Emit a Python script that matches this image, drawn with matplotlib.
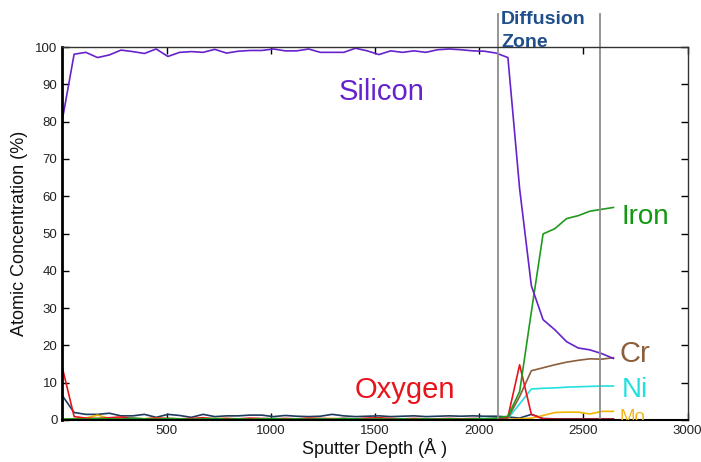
import numpy as np
import matplotlib
matplotlib.use("Agg")
import matplotlib.pyplot as plt

plt.rcParams['font.family'] = ['Liberation Sans', 'DejaVu Sans']

# depth step between AES points (Angstrom)
step = 56.25
depth = np.arange(48) * step

silicon = [80.6, 98.1, 98.6, 97.2, 97.9, 99.2, 98.8, 98.3, 99.5, 97.5,
           98.6, 98.8, 98.6, 99.4, 98.4, 98.9, 99.1, 99.1, 99.5, 99.0,
           99.0, 99.5, 98.6, 98.6, 98.6, 99.7, 99.0, 98.0, 99.0, 98.6,
           99.0, 98.6, 99.3, 99.5, 99.3, 99.0, 98.9, 98.4, 97.2, 62.0,
           36.0, 26.9, 24.2, 21.0, 19.3, 18.8, 17.8, 16.5]
iron = [0.2, 0.3, 0.2, 0.4, 0.3, 0.2, 0.5, 0.3, 0.2, 0.4,
        0.3, 0.2, 0.3, 0.4, 0.2, 0.3, 0.2, 0.3, 0.4, 0.2,
        0.3, 0.2, 0.3, 0.2, 0.4, 0.3, 0.2, 0.3, 0.2, 0.3,
        0.2, 0.3, 0.2, 0.3, 0.2, 0.3, 0.3, 0.5, 1.0, 7.6,
        29.0, 49.9, 51.3, 54.0, 54.8, 56.0, 56.5, 57.0]
chromium = [0.1, 0.2, 0.2, 0.3, 0.2, 0.2, 0.3, 0.2, 0.2, 0.3,
            0.2, 0.2, 0.2, 0.3, 0.2, 0.2, 0.2, 0.2, 0.3, 0.2,
            0.2, 0.2, 0.2, 0.2, 0.3, 0.2, 0.2, 0.2, 0.2, 0.2,
            0.2, 0.2, 0.2, 0.2, 0.2, 0.2, 0.2, 0.3, 0.5, 6.3,
            13.2, 14.0, 14.8, 15.5, 16.0, 16.4, 16.3, 16.7]
nickel = [0.1, 0.1, 0.1, 0.1, 0.1, 0.1, 0.1, 0.1, 0.1, 0.1,
          0.1, 0.1, 0.1, 0.1, 0.1, 0.1, 0.1, 0.1, 0.1, 0.1,
          0.1, 0.1, 0.1, 0.1, 0.1, 0.1, 0.1, 0.1, 0.1, 0.1,
          0.2, 0.2, 0.2, 0.2, 0.3, 0.3, 0.4, 0.4, 0.4, 4.3,
          8.3, 8.5, 8.6, 8.8, 8.9, 9.0, 9.1, 9.1]
molybdenum = [0.2, 0.3, 0.5, 1.3, 0.4, 0.3, 0.2, 0.3, 0.5, 0.3,
              0.2, 0.3, 0.2, 0.3, 0.4, 0.2, 0.3, 0.2, 0.3, 0.2,
              0.3, 0.2, 0.3, 0.4, 0.2, 0.3, 0.2, 0.3, 0.2, 0.3,
              0.2, 0.3, 0.2, 0.3, 0.2, 0.3, 0.2, 0.2, 0.2, 0.3,
              0.5, 1.2, 2.0, 2.1, 2.1, 1.6, 2.3, 2.3]
oxygen = [14.0, 0.9, 0.5, 0.4, 0.6, 0.8, 0.4, 0.3, 0.5, 0.4,
          0.3, 0.4, 0.6, 0.3, 0.4, 0.3, 0.5, 0.4, 0.3, 0.4,
          0.3, 0.5, 0.4, 0.3, 0.4, 0.3, 0.5, 0.6, 0.4, 0.3,
          0.4, 0.3, 0.3, 0.4, 0.3, 0.4, 0.3, 0.4, 0.8, 14.8,
          1.5, 0.3, 0.2, 0.2, 0.2, 0.2, 0.2, 0.2]
carbon = [6.5, 2.0, 1.5, 1.5, 1.8, 1.1, 1.1, 1.5, 0.7, 1.5,
          1.2, 0.7, 1.5, 0.9, 1.1, 1.1, 1.3, 1.3, 0.9, 1.2,
          1.0, 0.9, 1.0, 1.5, 1.1, 0.9, 1.0, 1.1, 0.9, 1.0,
          1.1, 0.9, 1.0, 1.1, 1.0, 1.1, 1.0, 1.0, 0.8, 0.5,
          1.5, 0.4, 0.3, 0.3, 0.3, 0.3, 0.3, 0.3]

zone = [2090, 2580]

fig = plt.figure(figsize=(7.01, 4.62), dpi=100)
ax = fig.add_axes([0.089, 0.091, 0.892, 0.807])

ax.plot(depth, carbon, color='#1f3a5f', lw=1.2)
ax.plot(depth, nickel, color='#22e0e0', lw=1.2)
ax.plot(depth, molybdenum, color='#f0b400', lw=1.2)
ax.plot(depth, chromium, color='#8b5e3c', lw=1.2)
ax.plot(depth, oxygen, color='#e8141c', lw=1.2)
ax.plot(depth, iron, color='#1f9a1f', lw=1.2)
ax.plot(depth, silicon, color='#6622cc', lw=1.2)

for z in zone:
    ax.axvline(z, ymin=0, ymax=1.09, color='#8c8c8c', lw=1.3, clip_on=False)

ax.text(2105, 106.3, 'Diffusion', color='#1f4e8c', fontsize=14,
        fontweight='bold', ha='left', va='baseline', clip_on=False)
ax.text(2105, 99.9, 'Zone', color='#1f4e8c', fontsize=14,
        fontweight='bold', ha='left', va='baseline', clip_on=False)

ax.text(1325, 88, 'Silicon', color='#6622cc', fontsize=21, va='center')
ax.text(1400, 8, 'Oxygen', color='#e8141c', fontsize=21, va='center')
ax.text(2682, 54.5, 'Iron', color='#119911', fontsize=20, va='center')
ax.text(2672, 17.8, 'Cr', color='#8b5e3c', fontsize=21, va='center')
ax.text(2682, 8, 'Ni', color='#22e0e0', fontsize=20, va='center')
ax.text(2672, -0.6, 'Mo', color='#f2b61c', fontsize=13.5, va='baseline',
        clip_on=True)

ax.set_xlim(0, 3000)
ax.set_ylim(0, 100)
ax.set_xticks([500, 1000, 1500, 2000, 2500, 3000])
ax.set_yticks(np.arange(0, 101, 10))
ax.tick_params(direction='in', top=True, right=True, length=5,
               labelsize=9.5, labelcolor='#222222', width=1)
ax.tick_params(axis='y', labelright=False)
ax.set_ylabel('Atomic Concentration (%)', fontsize=13, color='#111111',
              labelpad=5)
ax.set_xlabel('Sputter Depth (Å )', fontsize=13, color='#111111',
              labelpad=1)

for side in ['top', 'right']:
    ax.spines[side].set_linewidth(1.0)
    ax.spines[side].set_color('#333333')
ax.spines['left'].set_linewidth(2.0)
ax.spines['bottom'].set_linewidth(1.5)

fig.savefig('out.png', dpi=100)
